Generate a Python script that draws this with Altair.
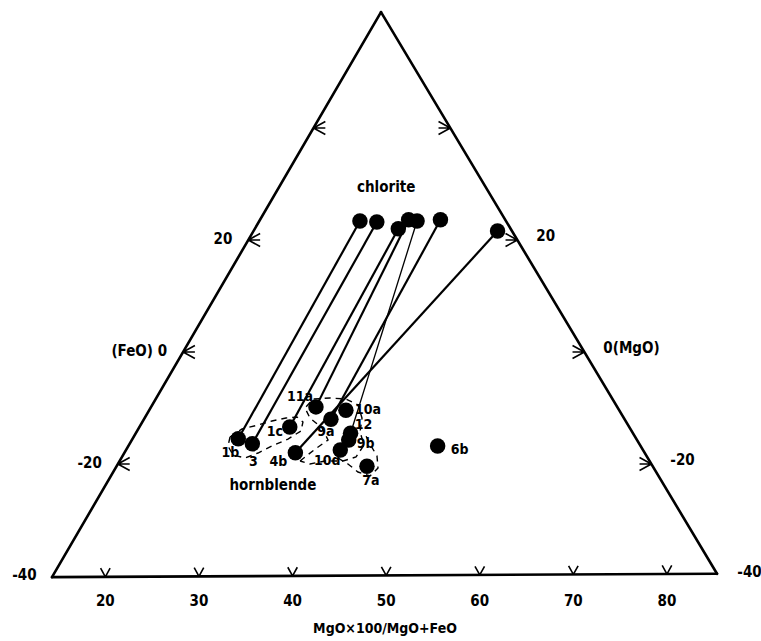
import altair as alt
import pandas as pd

# ---------------- data ----------------
# chlorite analyses (x = MgO*100/(MgO+FeO), y = vertical ternary coordinate)
chl_x = [47.2, 49.0, 51.3, 52.4, 53.3, 55.8, 61.9]
chl_y = [23.4, 23.2, 22.0, 23.6, 23.4, 23.6, 21.6]

# hornblende analyses
hb_names = ["1b", "3", "1c", "4b", "11a", "10a", "9a", "12", "9b", "10d", "7a", "6b"]
hb_x = [34.2, 35.7, 39.7, 40.3, 42.5, 45.7, 44.1, 46.2, 46.0, 45.1, 47.95, 55.5]
hb_y = [-15.5, -16.4, -13.4, -18.0, -9.8, -10.4, -12.0, -14.5, -15.7, -17.5, -20.4, -16.8]

# tie lines chlorite index -> hornblende sample
tie_chl = [0, 1, 2, 3, 4, 5, 6]
tie_hb = ["1b", "3", "1c", "11a", "12", "9a", "4b"]
tie_thin = [False, False, False, False, True, False, False]

# triangle corners (bottom-left, bottom-right, apex)
tri_x = [14.3, 85.35, 49.45]
tri_y = [-40.2, -39.6, 60.7]

bottom_ticks = [20, 30, 40, 50, 60, 70, 80]
side_ticks = [40, 20, 0, -20]
left_labels = ["20", "(FeO) 0", "-20", "-40"]
right_labels = ["20", "0(MgO)", "-20", "-40"]
label_levels = [20, 0, -20, -40]

# dashed compositional envelopes of hornblende
envA_x = [33.32, 34.60, 36.31, 37.80, 39.30, 40.47, 41.11, 40.90, 39.51, 37.80, 36.31, 34.92, 33.64, 33.10, 33.32]
envA_y = [-15.18, -13.75, -13.04, -12.32, -11.79, -11.61, -12.5, -14.11, -15.54, -16.79, -18.04, -18.93, -18.39, -16.79, -15.18]
envB_x = [40.80, 42.29, 43.79, 43.15, 41.86, 41.33, 42.18, 44.00, 45.71, 46.99, 47.42, 47.21, 47.63, 46.78, 45.39, 43.47, 41.86, 40.80]
envB_y = [-19.46, -17.5, -15.71, -13.57, -11.79, -10.0, -8.39, -8.21, -8.39, -9.46, -11.79, -14.29, -16.61, -18.75, -19.46, -19.46, -20.0, -19.46]
envC_x = [44.85, 45.92, 46.99, 48.27, 49.13, 49.02, 48.27, 47.63]
envC_y = [-18.93, -20.0, -21.43, -22.14, -20.71, -18.57, -16.43, -14.29]

# label placement (pixel offsets from each hornblende point)
hb_label_dx = [-8, 1, -15, -17, -16, 22, -5, 13, 17, -13, 4, 22]
hb_label_dy = [14, 18, 5, 9, -10, 0, 13, -8, 4, 11, 15, 4]

# ---------------- scales ----------------
PX_X, PX_Y = 9.36, 5.6          # pixels per data unit
X0 = 8.744
Y1 = 352 / PX_Y
xs = alt.Scale(domain=[X0, X0 + 761 / PX_X], nice=False, zero=False)
ys = alt.Scale(domain=[Y1 - 641 / PX_Y, Y1], nice=False, zero=False)


def X(f):
    return alt.X(f, type="quantitative", scale=xs, axis=None)


def Y(f):
    return alt.Y(f, type="quantitative", scale=ys, axis=None)


def X2(f):
    return alt.X2(f)


def Y2(f):
    return alt.Y2(f)


def on_edge(a, b, level):
    # point on edge a->b whose vertical coordinate equals level
    ax, ay, bx, by = tri_x[a], tri_y[a], tri_x[b], tri_y[b]
    t = (level - ay) / (by - ay)
    return ax + t * (bx - ax), level


def on_bottom(xv):
    t = (xv - tri_x[0]) / (tri_x[1] - tri_x[0])
    return xv, tri_y[0] + t * (tri_y[1] - tri_y[0])


FONT = "DejaVu Sans Condensed"

# triangle edges
edges = pd.DataFrame({
    "x": [tri_x[0], tri_x[1], tri_x[2]],
    "y": [tri_y[0], tri_y[1], tri_y[2]],
    "x2": [tri_x[1], tri_x[2], tri_x[0]],
    "y2": [tri_y[1], tri_y[2], tri_y[0]],
})
tri = alt.Chart(edges).mark_rule(color="black", strokeWidth=2.6, strokeCap="round").encode(
    x=X("x"), y=Y("y"), x2=X2("x2"), y2=Y2("y2"))

# tick arrows
left_t = pd.DataFrame([on_edge(0, 2, v) for v in side_ticks], columns=["x", "y"])
right_t = pd.DataFrame([on_edge(1, 2, v) for v in side_ticks], columns=["x", "y"])
bot_t = pd.DataFrame([on_bottom(v) for v in bottom_ticks], columns=["x", "y"])

left_arrows = alt.Chart(left_t).mark_point(
    shape="M0,0L1,-0.55M0,0L1,0.55M0,0L1,0", size=560, strokeWidth=1.6,
    color="black", filled=False, opacity=1).encode(x=X("x"), y=Y("y"))
right_arrows = alt.Chart(right_t).mark_point(
    shape="M0,0L-1,-0.55M0,0L-1,0.55M0,0L-1,0", size=560, strokeWidth=1.6,
    color="black", filled=False, opacity=1).encode(x=X("x"), y=Y("y"))
bot_arrows = alt.Chart(bot_t).mark_point(
    shape="M0,0L-0.55,-1M0,0L0.55,-1", size=300, strokeWidth=1.6,
    color="black", filled=False, opacity=1).encode(x=X("x"), y=Y("y"))

# axis labels
bot_lab = pd.DataFrame({"x": bottom_ticks, "t": [str(v) for v in bottom_ticks]})
bot_text = alt.Chart(bot_lab).mark_text(font=FONT, fontSize=15, fontWeight="bold",
                                        color="black").encode(
    x=X("x"), y=alt.value(601), text="t:N")

ll = pd.DataFrame([on_edge(0, 2, v) for v in label_levels], columns=["x", "y"])
ll["t"] = left_labels
left_text = alt.Chart(ll).mark_text(font=FONT, fontSize=15, fontWeight="bold",
                                    color="black", align="right", dx=-16, dy=-1).encode(
    x=X("x"), y=Y("y"), text="t:N")
rl = pd.DataFrame([on_edge(1, 2, v) for v in label_levels], columns=["x", "y"])
rl["t"] = right_labels
right_text = alt.Chart(rl).mark_text(font=FONT, fontSize=15, fontWeight="bold",
                                     color="black", align="left", dx=19, dy=-4).encode(
    x=X("x"), y=Y("y"), text="t:N")

title = alt.Chart(pd.DataFrame({"t": ["MgO×100/MgO+FeO"]})).mark_text(
    font=FONT, fontSize=14, fontWeight="bold", color="black").encode(
    x=alt.value(385), y=alt.value(629), text="t:N")

# envelopes
env = pd.concat([
    pd.DataFrame({"x": envA_x, "y": envA_y, "g": "A", "o": range(len(envA_x))}),
    pd.DataFrame({"x": envB_x, "y": envB_y, "g": "B", "o": range(len(envB_x))}),
    pd.DataFrame({"x": envC_x, "y": envC_y, "g": "C", "o": range(len(envC_x))}),
])
env_lines = alt.Chart(env).mark_line(color="black", strokeWidth=1.4, strokeDash=[6, 5]).encode(
    x=X("x"), y=Y("y"), detail="g:N", order="o:Q")

# tie lines
hb_index = {n: i for i, n in enumerate(hb_names)}
ties = pd.DataFrame({
    "x": [chl_x[c] for c in tie_chl],
    "y": [chl_y[c] for c in tie_chl],
    "x2": [hb_x[hb_index[h]] for h in tie_hb],
    "y2": [hb_y[hb_index[h]] for h in tie_hb],
    "thin": tie_thin,
})
tie_thick = alt.Chart(ties[~ties["thin"]]).mark_rule(color="black", strokeWidth=2.2).encode(
    x=X("x"), y=Y("y"), x2=X2("x2"), y2=Y2("y2"))
tie_thin_l = alt.Chart(ties[ties["thin"]]).mark_rule(color="black", strokeWidth=1.3).encode(
    x=X("x"), y=Y("y"), x2=X2("x2"), y2=Y2("y2"))

# points
pts = pd.concat([
    pd.DataFrame({"x": chl_x, "y": chl_y}),
    pd.DataFrame({"x": hb_x, "y": hb_y}),
])
dots = alt.Chart(pts).mark_circle(size=240, color="black", opacity=1).encode(x=X("x"), y=Y("y"))

hb_lab = pd.DataFrame({
    "x": [hb_x[i] + hb_label_dx[i] / PX_X for i in range(len(hb_names))],
    "y": [hb_y[i] - hb_label_dy[i] / PX_Y for i in range(len(hb_names))],
    "t": hb_names,
})
hb_text = alt.Chart(hb_lab).mark_text(font=FONT, fontSize=14, fontWeight="bold",
                                      color="black").encode(x=X("x"), y=Y("y"), text="t:N")

names = alt.Chart(pd.DataFrame({"t": ["chlorite", "hornblende"],
                                "x": [50.0, 37.9], "y": [29.5, -23.8]})).mark_text(
    font=FONT, fontSize=15, fontWeight="bold", color="black").encode(
    x=X("x"), y=Y("y"), text="t:N")

chart = alt.layer(
    tri, left_arrows, right_arrows, bot_arrows, bot_text, left_text, right_text, title,
    env_lines, tie_thick, tie_thin_l, dots, hb_text, names
).properties(
    width=761, height=641, autosize=alt.AutoSizeParams(type="none"), padding=0,
    background="white"
).configure_view(strokeWidth=0)

chart.save("out.html", embed_options={"renderer": "svg", "actions": False})
